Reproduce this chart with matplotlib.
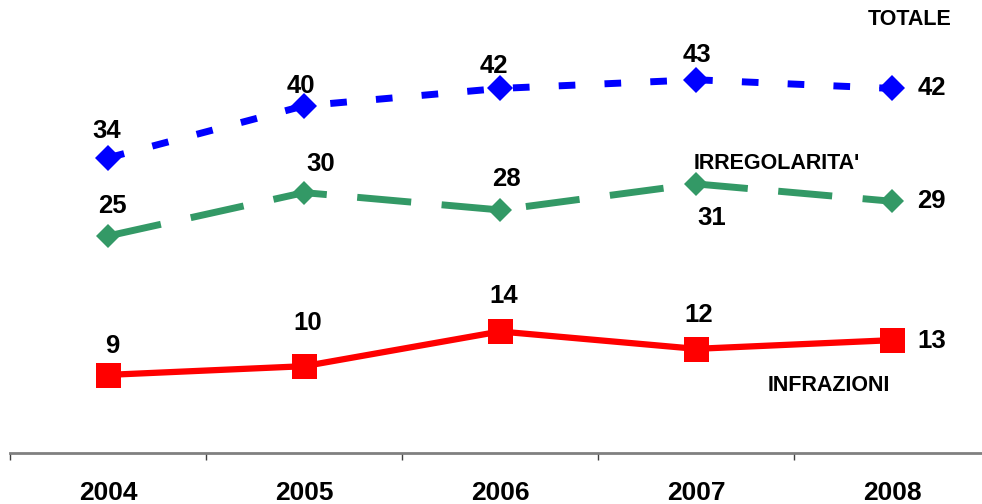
import numpy as np
import matplotlib
matplotlib.use("Agg")
import matplotlib.pyplot as plt

# data
years = ["2004", "2005", "2006", "2007", "2008"]
totale = [34, 40, 42, 43, 42]
irregolarita = [25, 30, 28, 31, 29]
infrazioni = [9, 10, 14, 12, 13]
series_names = ["TOTALE", "IRREGOLARITA'", "INFRAZIONI"]

plt.rcParams['font.family'] = ['Liberation Sans', 'DejaVu Sans']

fig = plt.figure(figsize=(9.82, 5.04), dpi=100)
ax = fig.add_axes([10 / 982, 51 / 504, 980 / 982, 434 / 504])

x = np.arange(len(years))

ax.plot(x, totale, color='#0000FF', lw=5, dashes=(2.4, 4.2),
        dash_capstyle='butt', marker='D', ms=13.5, mew=0, clip_on=False)
ax.plot(x, irregolarita, color='#339966', lw=5, dashes=(7.8, 4.4),
        dash_capstyle='butt', marker='D', ms=12, mew=0, clip_on=False)
ax.plot(x, infrazioni, color='#FF0000', lw=4.5, marker='s', ms=18,
        mew=0, clip_on=False)

# label offsets in pixels (label centre relative to marker)
off_tot = [(-1, 27), (-3, 20), (-6, 22), (1, 25), (40, 0)]
off_irr = [(4, 30), (17, 29), (6, 31), (16, -34), (39, 0)]
off_inf = [(4, 29), (4, 43), (4, 35), (3, 34), (40, -1)]

for vals, offs in [(totale, off_tot), (irregolarita, off_irr),
                   (infrazioni, off_inf)]:
    for xi, v, (dx, dy) in zip(x, vals, offs):
        ax.annotate(str(v), (xi, v), xytext=(dx, dy),
                    textcoords='offset pixels', ha='center', va='center',
                    fontsize=18.5, fontweight='bold', color='black')

ax.text(4.09, 49.9, series_names[0], ha='center', va='center',
        fontsize=15.5, fontweight='bold')
ax.text(3.41, 33.4, series_names[1], ha='center', va='center',
        fontsize=15.5, fontweight='bold')
ax.text(3.68, 7.8, series_names[2], ha='center', va='center',
        fontsize=15.5, fontweight='bold')

ax.set_xlim(-0.5, len(years) - 0.5)
ax.set_ylim(0, 50)
ax.set_xticks(x)
ax.set_xticklabels(years, fontsize=19, fontweight='bold')
ax.set_xticks(np.arange(len(years)) - 0.5, minor=True)
ax.tick_params(axis='x', which='major', length=0, pad=20)
ax.tick_params(axis='x', which='minor', length=5, width=1, color='#404040')
ax.set_yticks([])
for side in ['top', 'right', 'left']:
    ax.spines[side].set_visible(False)
ax.spines['bottom'].set_color('#808080')
ax.spines['bottom'].set_linewidth(2)

fig.savefig('out.png', dpi=100)
